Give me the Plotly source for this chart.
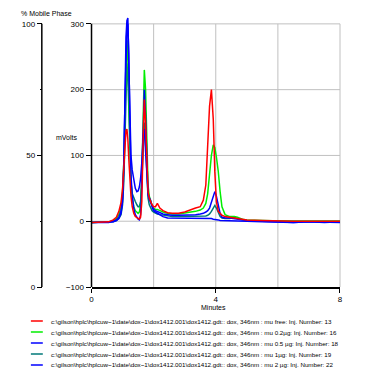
import plotly.graph_objects as go

# ---------------- data ----------------
time_min = [0.0, 0.3, 0.55, 0.7, 0.8, 0.88, 0.95, 1.0, 1.04, 1.08, 1.11, 1.14, 1.17, 1.2, 1.23,
            1.27, 1.31, 1.36, 1.41, 1.46, 1.5, 1.54, 1.58, 1.62, 1.66, 1.7, 1.74, 1.78, 1.82,
            1.86, 1.9, 1.95, 2.0, 2.06, 2.12, 2.2, 2.3, 2.45, 2.6, 2.8, 3.0, 3.2, 3.35, 3.5,
            3.6, 3.68, 3.74, 3.8, 3.86, 3.92, 3.97, 4.02, 4.08, 4.14, 4.2, 4.3, 4.45, 4.6,
            4.7, 4.85, 5.0, 5.5, 6.0, 6.5, 7.0, 7.5, 8.0]

mu_free = [-2, -2, -1, 2, 6, 15, 28, 50, 85, 120, 138, 140, 125, 95, 65,
           38, 22, 12, 7, 5, 4, 3, 6, 30, 120, 185, 150, 80, 45,
           35, 30, 25, 22, 22, 27, 20, 16, 13, 12, 12, 14, 18, 20, 22,
           32, 55, 110, 175, 200, 155, 75, 30, 15, 12, 9, 7, 6, 5,
           4, 3, 2, 1, 0, 0, 0, 0, 0]

mu_02 = [-2, -2, -1, 1, 4, 10, 22, 45, 90, 170, 240, 275, 250, 180, 110,
         60, 35, 22, 16, 13, 12, 14, 25, 70, 170, 230, 200, 110, 55,
         38, 30, 24, 20, 18, 18, 16, 14, 12, 11, 11, 12, 14, 15, 17,
         20, 27, 42, 70, 100, 116, 112, 98, 76, 45, 22, 10, 7, 7,
         6, 3, 2, 1, 0, 0, 0, 0, 0]

mu_05 = [-2, -2, -2, 0, 2, 6, 15, 35, 90, 190, 260, 295, 300, 255, 170,
         70, 40, 20, 10, 5, 3, 2, 10, 60, 150, 200, 160, 80, 40,
         33, 28, 22, 18, 16, 15, 13, 11, 10, 9, 9, 9, 10, 10, 11,
         12, 14, 16, 20, 28, 36, 45, 38, 25, 12, 6, 5, 5, 4,
         3, 2, 1, 0, -1, -2, -1, -2, -1]

mu_1 = [-2, -2, -2, -1, 1, 4, 10, 25, 60, 140, 210, 240, 220, 160, 100,
        60, 42, 35, 30, 25, 22, 22, 30, 60, 120, 150, 120, 60, 35,
        25, 20, 16, 14, 12, 11, 10, 9, 8, 7, 7, 7, 7, 7, 7,
        7, 8, 9, 11, 15, 20, 24, 20, 12, 7, 5, 4, 4, 6,
        4, 2, 1, 0, 0, 0, 0, 0, 0]

mu_2 = [-2, -2, -2, -1, 1, 4, 12, 30, 80, 200, 280, 305, 309, 240, 150,
        100, 78, 62, 50, 45, 46, 52, 65, 90, 130, 140, 110, 70, 42,
        36, 32, 22, 16, 14, 12, 9, 7, 5, 5, 4, 4, 4, 4, 4,
        4, 4, 4, 4, 4, 3, 3, 2, 2, 1, 1, 1, 1, 0,
        0, 0, 0, -1, -2, -2, -1, -2, -2]

legend_labels = [
    "c:\\gilson\\hplc\\hplcuw~1\\date\\dox~1\\dox1412.001\\dox1412.gdt:: dox, 346nm : mu free: Inj. Number: 13",
    "c:\\gilson\\hplc\\hplcuw~1\\date\\dox~1\\dox1412.001\\dox1412.gdt:: dox, 346nm : mu 0.2µg: Inj. Number: 16",
    "c:\\gilson\\hplc\\hplcuw~1\\date\\dox~1\\dox1412.001\\dox1412.gdt:: dox, 346nm : mu 0.5 µg: Inj. Number: 18",
    "c:\\gilson\\hplc\\hplcuw~1\\date\\dox~1\\dox1412.001\\dox1412.gdt:: dox, 346nm : mu 1µg: Inj. Number: 19",
    "c:\\gilson\\hplc\\hplcuw~1\\date\\dox~1\\dox1412.001\\dox1412.gdt:: dox, 346nm : mu 2 µg: Inj. Number: 22",
]
series = [mu_free, mu_02, mu_05, mu_1, mu_2]
colors = ["#ff0000", "#00ee00", "#0000ff", "#007878", "#0000ff"]

x_ticks = [0, 4, 8]
x_grid = [2, 4, 6, 8]
y_ticks = [-100, 0, 100, 200, 300]
y_grid = [0, 100, 200, 300]
mp_ticks = [0, 50, 100]

# ---------------- layout constants ----------------
OFF = 8                      # page body margin of the html page
W, H = 380 - OFF, 385 - OFF  # figure size
ML, MR, MT, MB = 2, 40, 6, 98
PW = W - ML - MR
PH = H - MT - MB
XDOM0 = (90 - OFF - ML) / PW
XMIN, XMAX = 0, 8
YMIN, YMAX = -100, 315
FONT = "Liberation Sans, Arial, sans-serif"


def px(xv):
    return XDOM0 + (xv - XMIN) / (XMAX - XMIN) * (1 - XDOM0)


def py(yv):
    return (yv - YMIN) / (YMAX - YMIN)


def pix_x(p):  # p in page pixels
    return (p - OFF - ML) / PW


def pix_y(p):
    return (H - MB - (p - OFF)) / PH


fig = go.Figure()
draw_order = [3, 1, 2, 4, 0]
for i in draw_order:
    fig.add_trace(go.Scatter(x=time_min, y=series[i], mode="lines", name=legend_labels[i],
                             line=dict(color=colors[i], width=1.5), showlegend=False,
                             hoverinfo="skip"))
# empty trace so the % mobile phase axis is drawn
fig.add_trace(go.Scatter(x=[], y=[], yaxis="y2", mode="lines", showlegend=False, hoverinfo="skip"))

shapes = []
grid_col = "#c0c0c0"
for gv in y_grid:
    shapes.append(dict(type="line", xref="paper", yref="paper", x0=px(XMIN), x1=px(XMAX),
                       y0=py(gv), y1=py(gv), line=dict(color=grid_col, width=1), layer="below"))
for gv in x_grid:
    shapes.append(dict(type="line", xref="paper", yref="paper", x0=px(gv), x1=px(gv),
                       y0=py(-100), y1=py(300), line=dict(color=grid_col, width=1), layer="below"))
# main y axis line
shapes.append(dict(type="line", xref="paper", yref="paper", x0=px(0), x1=px(0),
                   y0=py(-100), y1=py(300), line=dict(color="black", width=1.5)))
# mobile-phase axis line
MPX = pix_x(40)
shapes.append(dict(type="line", xref="paper", yref="paper", x0=MPX, x1=MPX,
                   y0=py(-100), y1=py(300), line=dict(color="black", width=1.5)))

annotations = [
    dict(text="% Mobile Phase", x=pix_x(17), y=pix_y(13), xref="paper", yref="paper",
         xanchor="left", yanchor="middle", showarrow=False, font=dict(size=7, color="black", family=FONT)),
    dict(text="mVolts", x=pix_x(65), y=pix_y(137), xref="paper", yref="paper",
         xanchor="center", yanchor="middle", showarrow=False, font=dict(size=7, color="black", family=FONT)),
    dict(text="Minutes", x=pix_x(213), y=pix_y(307), xref="paper", yref="paper",
         xanchor="center", yanchor="middle", showarrow=False, font=dict(size=7, color="black", family=FONT)),
]
leg_y = [321, 332, 343, 354, 365]
for i, lab in enumerate(legend_labels):
    yy = pix_y(leg_y[i])
    shapes.append(dict(type="line", xref="paper", yref="paper", x0=pix_x(29), x1=pix_x(41),
                       y0=yy, y1=yy, line=dict(color=colors[i], width=1.5)))
    annotations.append(dict(text=lab, x=pix_x(47), y=yy, xref="paper", yref="paper",
                            xanchor="left", yanchor="middle", showarrow=False,
                            font=dict(size=6.22, color="black", family=FONT)))

fig.update_layout(
    width=W, height=H,
    margin=dict(l=ML, r=MR, t=MT, b=MB, pad=0),
    paper_bgcolor="white", plot_bgcolor="white",
    font=dict(family=FONT, size=8, color="black"),
    xaxis=dict(domain=[XDOM0, 1], range=[XMIN, XMAX], tickvals=x_ticks, ticks="outside",
               ticklen=4, tickcolor="black", tickwidth=1, showline=True, linecolor="black",
               linewidth=1.5, showgrid=False, zeroline=False, tickfont=dict(size=8)),
    yaxis=dict(range=[YMIN, YMAX], tickvals=y_ticks, ticks="outside", ticklen=5,
               tickcolor="black", tickwidth=1, showline=False, showgrid=False, zeroline=False,
               tickfont=dict(size=8)),
    yaxis2=dict(overlaying="y", anchor="free", position=MPX, side="left",
                range=[0, 100 * (YMAX - YMIN) / 400], tickvals=mp_ticks, ticks="outside",
                ticklen=5, tickcolor="black", tickwidth=1, showline=False, showgrid=False,
                zeroline=False, tickfont=dict(size=8),
                minor=dict(tickvals=[25, 75], ticks="outside", ticklen=2, tickcolor="black")),
    shapes=shapes,
    annotations=annotations,
)

fig.write_html("out.html")
